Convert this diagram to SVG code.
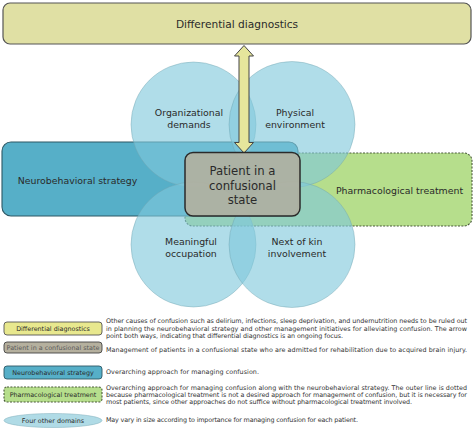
<svg xmlns="http://www.w3.org/2000/svg" width="474" height="430" viewBox="0 0 474 430">
<style>
.t{font-family:"DejaVu Sans","Liberation Sans",sans-serif;fill:#2a2a2a}
.main{font-size:9.4px;text-anchor:middle}
.leg{font-size:6.4px;fill:#333}
.legc{font-size:6.4px;text-anchor:middle}
.circ{fill:rgb(128,200,220);fill-opacity:0.62;stroke:#6fa2ad;stroke-width:0.6;stroke-opacity:0.7}
.dash{fill:#b6de8c;stroke:#4a5a3a;stroke-width:1.1;stroke-dasharray:2 1.4}
</style>
<rect width="474" height="430" fill="#ffffff"/>

<g id="differential-diagnostics">
<rect x="3" y="3" width="468" height="41" rx="7" fill="#e0e0a4" stroke="#555" stroke-width="1.2"/>
<text class="t" x="237" y="28" font-size="10.6" text-anchor="middle">Differential diagnostics</text>
</g>

<g id="pharmacological-treatment">
<rect class="dash" x="185" y="153" width="287" height="73" rx="8"/>
</g>

<g id="neurobehavioral-strategy">
<rect x="2" y="142" width="296" height="74" rx="9" fill="#56afc8" stroke="#2d5865" stroke-width="1.1"/>
</g>

<g id="organizational-demands">
<circle class="circ" cx="193.5" cy="124.5" r="62.5"/>
</g>
<g id="physical-environment">
<circle class="circ" cx="292" cy="124.5" r="63"/>
</g>
<g id="meaningful-occupation">
<circle class="circ" cx="193.5" cy="244.5" r="62.5"/>
</g>
<g id="next-of-kin-involvement">
<circle class="circ" cx="292" cy="244.5" r="63"/>
</g>

<g id="labels">
<text class="t main" x="77.5" y="183.5">Neurobehavioral strategy</text>
<text class="t main" x="399.5" y="194">Pharmacological treatment</text>
<text class="t main" x="189" y="116">Organizational</text>
<text class="t main" x="189" y="127.5">demands</text>
<text class="t main" x="295" y="116">Physical</text>
<text class="t main" x="295" y="127.5">environment</text>
<text class="t main" x="191" y="245">Meaningful</text>
<text class="t main" x="191" y="256.5">occupation</text>
<text class="t main" x="297" y="245">Next of kin</text>
<text class="t main" x="297" y="256.5">involvement</text>
</g>

<g id="connectors">
<path d="M244 45.5 L253.5 56 L249 56 L249 142.5 L253.5 142.5 L244 153 L234.5 142.5 L239 142.5 L239 56 L234.5 56 Z" fill="#e6e69c" stroke="#444" stroke-width="1" stroke-linejoin="round"/>
</g>

<g id="patient">
<rect x="185" y="152.5" width="115" height="63.5" rx="8" fill="#b3b09e" fill-opacity="0.9" stroke="#2a2a2a" stroke-width="1.5"/>
<text class="t" x="242.5" y="175" font-size="11.7" text-anchor="middle">Patient in a</text>
<text class="t" x="242.5" y="189.5" font-size="11.7" text-anchor="middle">confusional</text>
<text class="t" x="242.5" y="204" font-size="11.7" text-anchor="middle">state</text>
</g>

<g id="legend">
<g id="legend-differential">
<rect x="4" y="322" width="98" height="13" rx="3" fill="#e8e88e" stroke="#555" stroke-width="0.9"/>
<text class="t legc" x="53" y="330.8">Differential diagnostics</text>
<text class="t leg" x="106" y="323" textLength="361" lengthAdjust="spacing">Other causes of confusion such as delirium, infections, sleep deprivation, and undernutrition needs to be ruled out</text>
<text class="t leg" x="106" y="330.5" textLength="361" lengthAdjust="spacing">in planning the neurobehavioral strategy and other management initiatives for alleviating confusion. The arrow</text>
<text class="t leg" x="106" y="338" textLength="237" lengthAdjust="spacing">point both ways, indicating that differential diagnostics is an ongoing focus.</text>
</g>
<g id="legend-patient">
<rect x="4" y="342" width="98" height="11" rx="3" fill="#b5b09e" stroke="#444" stroke-width="0.9"/>
<text class="t legc" x="53" y="350" style="fill:#5a5a5a">Patient in a confusional state</text>
<text class="t leg" x="106" y="352" textLength="361" lengthAdjust="spacing">Management of patients in a confusional state who are admitted for rehabilitation due to acquired brain injury.</text>
</g>
<g id="legend-neuro">
<rect x="4" y="366" width="98" height="13" rx="3" fill="#56afc8" stroke="#2d5865" stroke-width="0.9"/>
<text class="t legc" x="53" y="374.5">Neurobehavioral strategy</text>
<text class="t leg" x="106" y="374" textLength="153" lengthAdjust="spacing">Overarching approach for managing confusion.</text>
</g>
<g id="legend-pharma">
<rect class="dash" x="4" y="387" width="98" height="15" rx="3" stroke-width="0.9"/>
<text class="t legc" x="53" y="397">Pharmacological treatment</text>
<text class="t leg" x="106" y="389.5" textLength="361" lengthAdjust="spacing">Overarching approach for managing confusion along with the neurobehavioral strategy. The outer line is dotted</text>
<text class="t leg" x="106" y="396.8" textLength="361" lengthAdjust="spacing">because pharmacological treatment is not a desired approach for management of confusion, but it is necessary for</text>
<text class="t leg" x="106" y="404" textLength="306" lengthAdjust="spacing">most patients, since other approaches do not suffice without pharmacological treatment involved.</text>
</g>
<g id="legend-domains">
<ellipse cx="53" cy="420.5" rx="49" ry="7" fill="#b0dbe6" stroke="#8bb7c2" stroke-width="0.6"/>
<text class="t legc" x="53" y="422.5">Four other domains</text>
<text class="t leg" x="106" y="421.5" textLength="252" lengthAdjust="spacing">May vary in size according to importance for managing confusion for each patient.</text>
</g>
</g>
</svg>
